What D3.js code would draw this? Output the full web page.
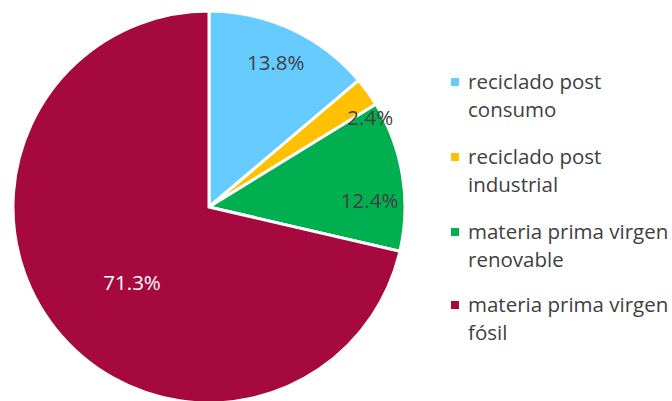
<!DOCTYPE html>
<html><head><meta charset="utf-8">
<script src="https://cdn.jsdelivr.net/npm/d3@7"></script>
<style>body{margin:0;background:#fff}svg{display:block}</style>
</head><body>
<svg id="c" width="672" height="401"></svg>
<script>
const categories = ["reciclado post consumo","reciclado post industrial","materia prima virgen renovable","materia prima virgen fósil"];
const legendLines = [["reciclado post","consumo"],["reciclado post","industrial"],["materia prima virgen","renovable"],["materia prima virgen","fósil"]];
const values = [13.8, 2.4, 12.4, 71.3];
const colors = ["#66CCFF","#FFC000","#00B050","#A5093D"];
const labelColors = ["#404040","#404040","#404040","#FFFFFF"];

const svg = d3.select("#c");
const cx = 209, cy = 207, r = 196;
const font = "'Open Sans', sans-serif";
const pie = d3.pie().sort(null).value(d => d)(values);
const arc = d3.arc().innerRadius(0).outerRadius(r);
const g = svg.append("g").attr("transform", `translate(${cx},${cy})`);
g.selectAll("path").data(pie).join("path")
  .attr("d", arc).attr("fill", (d,i) => colors[i])
  .attr("stroke", "#fff").attr("stroke-width", 3).attr("stroke-linejoin","miter");

const labelR = [0.81, 0.94, 0.82, 0.55];
const labelShift = [0, 7, 7, -6];
g.selectAll("text").data(pie).join("text")
  .attr("transform", (d,i) => {
    const a = (d.startAngle + d.endAngle)/2 + labelShift[i]*Math.PI/180;
    const rr = r*labelR[i];
    return `translate(${rr*Math.sin(a)},${-rr*Math.cos(a)})`;
  })
  .attr("text-anchor","middle").attr("dy","0.35em")
  .attr("font-family", font).attr("font-size", 20.5)
  .attr("fill", (d,i) => labelColors[i])
  .text(d => d.data.toFixed(1) + "%");

const lg = svg.append("g");
const y0 = [82, 157, 232, 305], lh = 28;
legendLines.forEach((lines, i) => {
  lg.append("rect").attr("x", 451).attr("y", y0[i]-4).attr("width", 8).attr("height", 8).attr("fill", colors[i]);
  lines.forEach((t, j) => {
    lg.append("text").attr("x", 468).attr("y", y0[i] + j*lh).attr("dy","0.35em")
      .attr("font-family", font).attr("font-size", 20.5).attr("fill","#404040").text(t);
  });
});
</script>
</body></html>
